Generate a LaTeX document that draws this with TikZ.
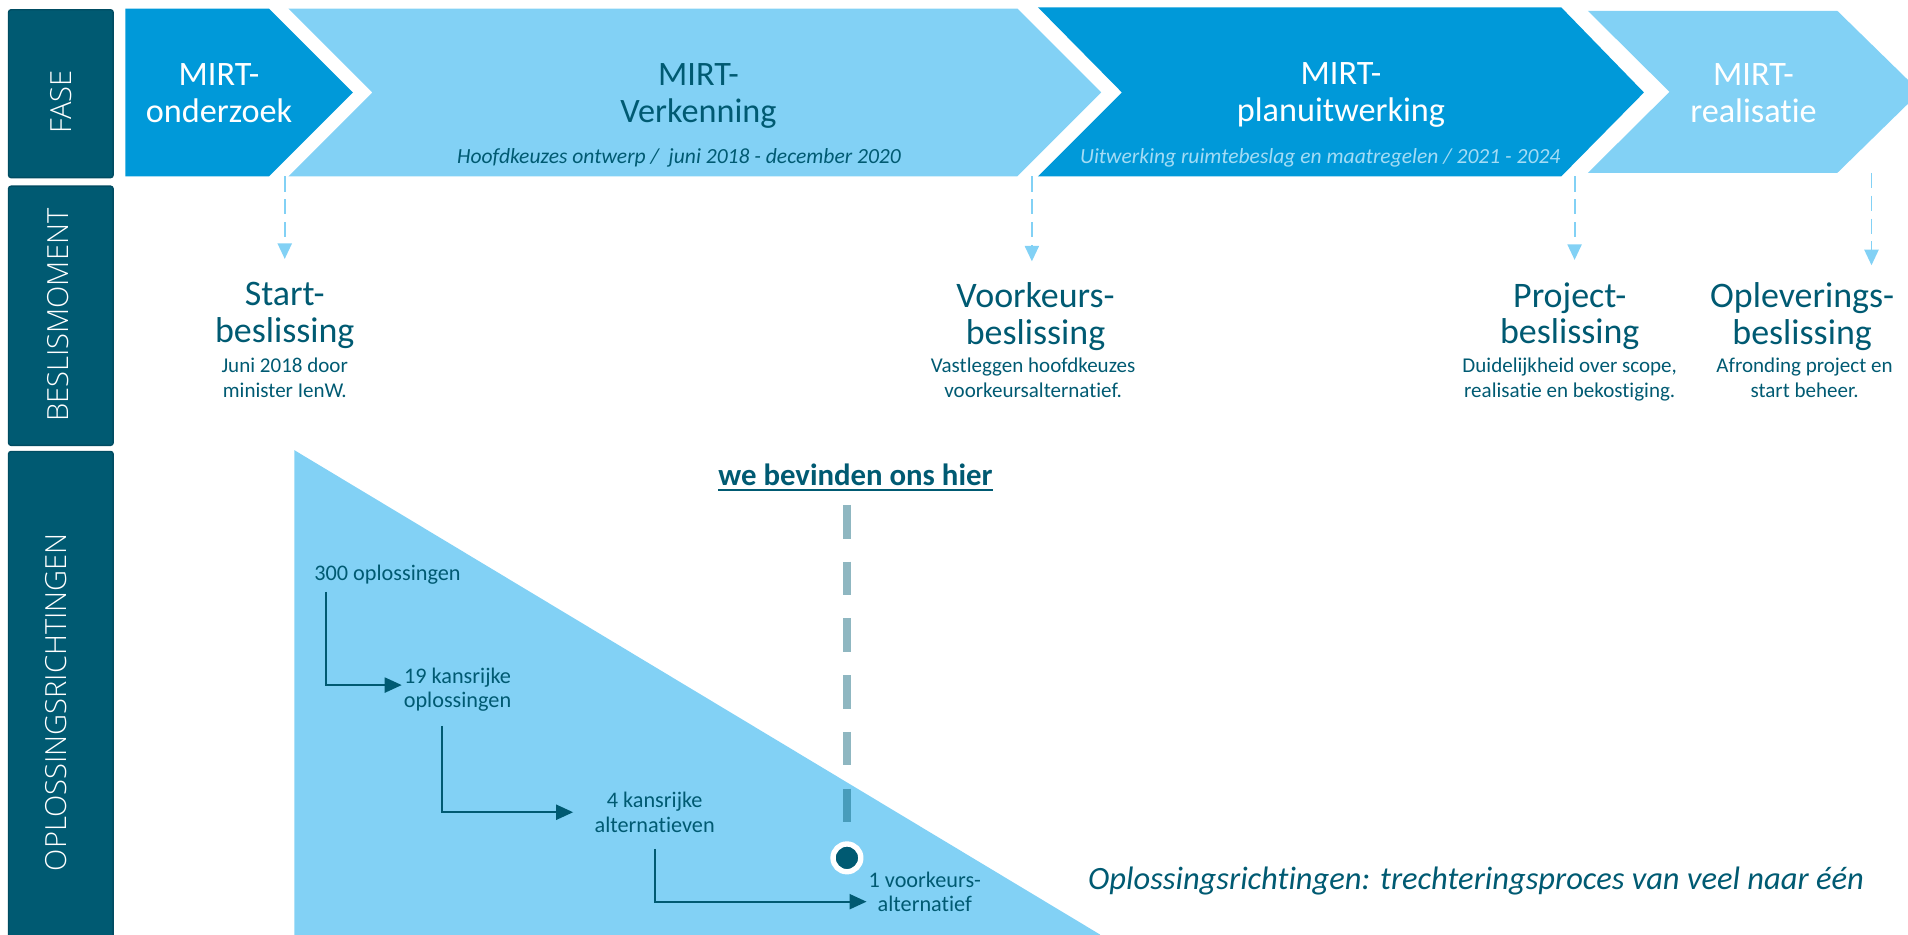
\documentclass[tikz,border=0pt]{standalone}
\usepackage{fontspec}
\setmainfont{Carlito}[Ligatures=NoCommon]
\IfFontExistsTF{Open Sans Light}{\newfontfamily\zijfont{Open Sans Light}}{\newfontfamily\zijfont{Open Sans}}
\usetikzlibrary{arrows.meta, calc}
\definecolor{donkerblauw}{HTML}{0099D9}
\definecolor{lichtblauw}{HTML}{82D1F5}
\definecolor{subblauw}{HTML}{A3DCF5}
\definecolor{petrol}{HTML}{005A72}
\definecolor{petrolrand}{HTML}{004C62}
\newcommand\onderstreep[1]{\sbox0{#1}\rlap{\rule[-3.4pt]{\wd0}{1.1pt}}\usebox0}

\begin{document}
\begin{tikzpicture}[x=0.025cm, y=-0.025cm,
    fasetitel/.style={align=center, inner sep=0pt, anchor=north, font=\fontsize{20}{21.5}\selectfont},
    faseonder/.style={inner sep=0pt, anchor=north, font=\fontsize{12.6}{15}\selectfont\itshape},
    beslistitel/.style={text=petrol, align=center, inner sep=0pt, anchor=north, font=\fontsize{21}{21.3}\selectfont},
    beslisonder/.style={text=petrol, align=center, inner sep=0pt, anchor=north, font=\fontsize{12.3}{14.5}\selectfont},
    zijvak/.style={fill=petrol, draw=petrolrand, line width=0.8pt, rounded corners=1.5pt},
    zijlabel/.style={text=white, rotate=90, inner sep=0pt, font=\zijfont\fontsize{17}{17}\selectfont},
    beslispijl/.style={draw=lichtblauw, line width=1.15pt, dash pattern=on 0.31cm off 0.16cm, -{Triangle[length=0.32cm, width=0.29cm]}},
    trechtertekst/.style={text=petrol, align=center, inner sep=1pt, font=\fontsize{13}{14.2}\selectfont},
    stap/.style={draw=petrol, line width=1.15pt, -{Triangle[length=0.35cm, width=0.31cm]}},
    hierlijn/.style={draw=petrol, draw opacity=0.44, line width=0.175cm, dash pattern=on 0.69cm off 0.475cm}]
    \useasboundingbox (0,0) rectangle (1568,768);

    \fill[donkerblauw] (103,7) -- (221,7) -- (290,76) -- (221,145) -- (103,145) -- cycle;
    \fill[lichtblauw] (237,7) -- (836,7) -- (905,76) -- (836,145) -- (237,145) -- (306,76) -- cycle;
    \fill[donkerblauw] (853,6) -- (1283,6) -- (1351,76) -- (1283,145) -- (853,145) -- (922,76) -- cycle;
    \fill[lichtblauw] (1305,9) -- (1510,9) -- (1578,75.5) -- (1510,142) -- (1305,142) -- (1372,75.5) -- cycle;

    \draw[zijvak] (7,8) rectangle (93,146);
    \draw[zijvak] (7,153) rectangle (93,366);
    \draw[zijvak] (7,371) rectangle (93,775);
    \node[zijlabel] (fase) at (50,84) {FASE};
    \node[zijlabel] (beslismoment) at (48,259) {BESLISMOMENT};
    \node[zijlabel] (oplossingsrichtingen) at (46,577) {OPLOSSINGSRICHTINGEN};

    \node[fasetitel, text=white] (onderzoek) at (180,52) {MIRT-\\onderzoek};
    \node[fasetitel, text=petrol] (verkenning) at (574,52) {MIRT-\\Verkenning};
    \node[faseonder, text=petrol] (verkenningtijd) at (558,122) {Hoofdkeuzes ontwerp /\ \ juni 2018 - december 2020};
    \node[fasetitel, text=white] (planuitwerking) at (1102,51) {MIRT-\\planuitwerking};
    \node[faseonder, text=subblauw] (planuitwerkingtijd) at (1085,122) {Uitwerking ruimtebeslag en maatregelen / 2021 - 2024};
    \node[fasetitel, text=white] (realisatie) at (1441,52) {MIRT-\\realisatie};

    \coordinate (onderzoekvoet) at (234,145);
    \coordinate (verkenningvoet) at (848,145);
    \coordinate (planvoet) at (1294,145);
    \coordinate (realisatievoet) at (1538,142);

    \node[beslistitel] (start) at (234,232) {Start-\\beslissing};
    \node[beslisonder] (startuitleg) at (234,294) {Juni 2018 door\\minister IenW.};
    \node[beslistitel] (voorkeur) at (851,232) {Voorkeurs-\\beslissing};
    \node[beslisonder] (voorkeuruitleg) at (849,294) {Vastleggen hoofdkeuzes\\voorkeursalternatief.};
    \node[beslistitel] (project) at (1290,232) {Project-\\beslissing};
    \node[beslisonder] (projectuitleg) at (1290,294) {Duidelijkheid over scope,\\realisatie en bekostiging.};
    \node[beslistitel] (oplevering) at (1481,232) {Opleverings-\\beslissing};
    \node[beslisonder] (opleveringuitleg) at (1483,294) {Afronding project en\\start beheer.};

    \draw[beslispijl, shorten >=0.48cm] (onderzoekvoet) -- (onderzoekvoet |- start.north);
    \draw[beslispijl, shorten >=0.43cm] (verkenningvoet) -- (verkenningvoet |- voorkeur.north);
    \draw[beslispijl, shorten >=0.46cm] (planvoet) -- (planvoet |- project.north);
    \draw[beslispijl, shorten >=0.35cm] (realisatievoet) -- (realisatievoet |- oplevering.north);

    \fill[lichtblauw] (242,370) -- (904,768) -- (904,772) -- (242,772) -- cycle;

    \node[text=petrol, anchor=base, inner sep=0pt, font=\fontsize{18}{20}\selectfont\bfseries] (hier) at (703,398.6) {\onderstreep{we bevinden ons hier}};
    \node[circle, fill=petrol, draw=white, line width=0.11cm, minimum size=0.57cm, inner sep=0pt] (punt) at (696,705) {};
    \coordinate (hiertop) at (696,415);
    \draw[hierlijn] (hiertop) -- (hiertop |- punt.north);

    \node[trechtertekst, anchor=base west, inner sep=0pt] (n300) at (258,477) {300 oplossingen};
    \node[trechtertekst] (n19) at (376,567) {19 kansrijke\\oplossingen};
    \node[trechtertekst] (n4) at (538,667.5) {4 kansrijke\\alternatieven};
    \node[trechtertekst] (n1) at (760,733) {1 voorkeurs-\\alternatief};

    \draw[stap] (n300.south west) ++(10,6) |- ($(n19.west)+(0,-4)$);
    \draw[stap] (n19.south) ++(-13,10) |- ($(n4.west)+(-16,0)$);
    \draw[stap] (n4.south) ++(0,12) |- ($(n1.west)+(0,8)$);

    \node[text=petrol, anchor=base west, inner sep=0pt, font=\fontsize{19}{20}\selectfont\itshape] (trechtering) at (894,731) {Oplossingsrichtingen: trechteringsproces van veel naar één};
\end{tikzpicture}
\end{document}
